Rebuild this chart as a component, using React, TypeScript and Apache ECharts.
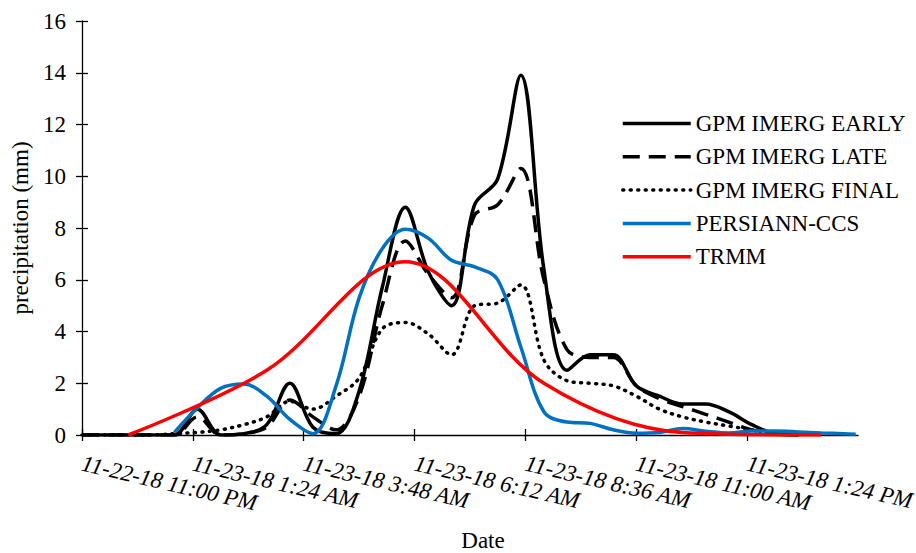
import React, { useEffect, useRef } from 'react';
import * as echarts from 'echarts';

// hours after 11-22-18 11:00 PM
const gpmHours = [0, 0.5, 1, 1.5, 2, 2.5, 3, 3.5, 4, 4.5, 5, 5.5, 6, 6.5, 7, 7.5, 8, 8.5, 9, 9.5, 10, 10.5, 11, 11.5, 12, 12.5, 13, 13.5, 14, 14.5, 15, 15.5];
const gpmEarly = [0, 0, 0, 0, 0, 1.0, 0, 0.05, 0.4, 2.0, 0.3, 0.05, 1.7, 5.7, 8.8, 6.3, 5.0, 8.9, 9.9, 13.9, 6.4, 2.5, 3.1, 3.1, 1.9, 1.5, 1.2, 1.2, 0.9, 0.4, 0.05, 0];
const gpmLate = [0, 0, 0, 0, 0, 0.7, 0, 0.05, 0.3, 1.35, 0.7, 0.2, 1.5, 5.0, 7.5, 6.2, 5.3, 8.5, 8.9, 10.3, 6.0, 3.3, 3.0, 3.0, 1.9, 1.4, 1.1, 0.8, 0.5, 0.2, 0.05, 0];
const gpmFinal = [0, 0, 0, 0, 0.05, 0.1, 0.2, 0.4, 0.7, 1.3, 1.0, 1.5, 2.2, 4.1, 4.35, 3.9, 3.1, 5.0, 5.1, 5.8, 2.9, 2.1, 2.0, 1.9, 1.5, 1.0, 0.7, 0.5, 0.35, 0.2, 0.05, 0];
const persiannHours = [2, 2.5, 3, 3.5, 4, 4.5, 5, 5.5, 6, 6.5, 7, 7.5, 8, 8.5, 9, 9.5, 10, 10.5, 11, 11.5, 12, 12.5, 13, 13.5, 14, 14.5, 15, 15.5, 16, 16.5, 16.75];
const persiann = [0.1, 1.05, 1.8, 1.97, 1.5, 0.6, 0.05, 1.9, 5.3, 7.2, 7.95, 7.6, 6.75, 6.5, 6.0, 3.4, 0.9, 0.5, 0.45, 0.2, 0.07, 0.1, 0.25, 0.15, 0.08, 0.15, 0.15, 0.12, 0.08, 0.05, 0.03];
const trmmHours = [1, 4, 7, 10, 13, 16];
const trmm = [0, 2.5, 6.7, 2.0, 0.1, 0];

const tickMinutes = [0, 144, 288, 432, 576, 720, 864];
const tickLabels = [
  '11-22-18 11:00 PM',
  '11-23-18 1:24 AM',
  '11-23-18 3:48 AM',
  '11-23-18 6:12 AM',
  '11-23-18 8:36 AM',
  '11-23-18 11:00 AM',
  '11-23-18 1:24 PM',
];

const FONT = "'Liberation Serif', 'Times New Roman', 'DejaVu Serif', serif";
const FS = 23;

function pairs(hours: number[], vals: number[]) {
  return hours.map((h, i) => [h * 60, vals[i]]);
}

export default function App() {
  const ref = useRef<HTMLDivElement>(null);
  useEffect(() => {
    const chart = echarts.init(ref.current!, null, { renderer: 'svg' });
    const smooth = 0.35;
    const LW = 3.5;
    const base = { type: 'line', symbol: 'none', smooth, xAxisIndex: 0, yAxisIndex: 0 };
    const tickStyle = { color: '#000', width: 1.3 };
    const xCommon = { type: 'value', min: 0, max: 1008, interval: 144, position: 'bottom', splitLine: { show: false } };
    const yCommon = { type: 'value', min: 0, max: 16, interval: 2, position: 'left', splitLine: { show: false } };
    const option: any = {
      animation: false,
      backgroundColor: '#fff',
      grid: { left: 82, right: 58, top: 21, bottom: 118, containLabel: false, outerBoundsMode: 'none' },
      legend: {
        orient: 'vertical',
        left: 616,
        top: 107,
        itemWidth: 68,
        itemHeight: 14,
        itemGap: 10.3,
        itemStyle: { opacity: 0 },
        lineStyle: { width: LW },
        textStyle: { fontFamily: FONT, fontSize: FS, color: '#000', lineHeight: 22 },
        data: ['GPM IMERG EARLY', 'GPM IMERG LATE', 'GPM IMERG FINAL', 'PERSIANN-CCS', 'TRMM'],
      },
      xAxis: [
        {
          ...xCommon,
          name: 'Date',
          nameLocation: 'middle',
          nameGap: 95,
          nameTextStyle: { fontFamily: FONT, fontSize: FS, color: '#000', lineHeight: 21, padding: [0, 0, 0, 26] },
          axisLine: { show: true, onZero: false, lineStyle: tickStyle },
          axisTick: { show: true, inside: false, length: 6, customValues: tickMinutes, lineStyle: tickStyle },
          axisLabel: {
            customValues: tickMinutes,
            rotate: -13,
            margin: 28,
            fontFamily: FONT,
            fontSize: FS,
            fontStyle: 'italic',
            color: '#000',
            formatter: (v: number) => {
              const i = tickMinutes.indexOf(v);
              return i >= 0 ? tickLabels[i] : '';
            },
          },
        },
        {
          ...xCommon,
          axisLine: { show: false, onZero: false },
          axisTick: { show: true, inside: true, length: 6, customValues: tickMinutes, lineStyle: tickStyle },
          axisLabel: { show: false },
        },
      ],
      yAxis: [
        {
          ...yCommon,
          name: 'precipitation (mm)',
          nameLocation: 'middle',
          nameGap: 47,
          nameTextStyle: { fontFamily: FONT, fontSize: FS, color: '#000' },
          axisLine: { show: true, onZero: false, lineStyle: tickStyle },
          axisTick: { show: true, inside: false, length: 6, lineStyle: tickStyle },
          axisLabel: { margin: 16, fontFamily: FONT, fontSize: FS, color: '#000' },
        },
        {
          ...yCommon,
          axisLine: { show: false, onZero: false },
          axisTick: { show: true, inside: true, length: 6, lineStyle: tickStyle },
          axisLabel: { show: false },
        },
      ],
      series: [
        { ...base, name: 'GPM IMERG EARLY', data: pairs(gpmHours, gpmEarly), color: '#000', lineStyle: { color: '#000', width: LW } },
        { ...base, name: 'GPM IMERG LATE', data: pairs(gpmHours, gpmLate), color: '#000', lineStyle: { color: '#000', width: LW, type: [17, 9] } },
        { ...base, name: 'GPM IMERG FINAL', data: pairs(gpmHours, gpmFinal), color: '#000', lineStyle: { color: '#000', width: LW, type: [1, 6.5], cap: 'round' } },
        { ...base, name: 'PERSIANN-CCS', data: pairs(persiannHours, persiann), color: '#0070C0', lineStyle: { color: '#0070C0', width: LW } },
        { ...base, name: 'TRMM', data: pairs(trmmHours, trmm), color: '#FF0000', lineStyle: { color: '#FF0000', width: LW } },
      ],
    };
    chart.setOption(option);
    return () => chart.dispose();
  }, []);
  return <div ref={ref} style={{ position: 'fixed', left: 0, top: 0, width: 916, height: 553 }} />;
}
